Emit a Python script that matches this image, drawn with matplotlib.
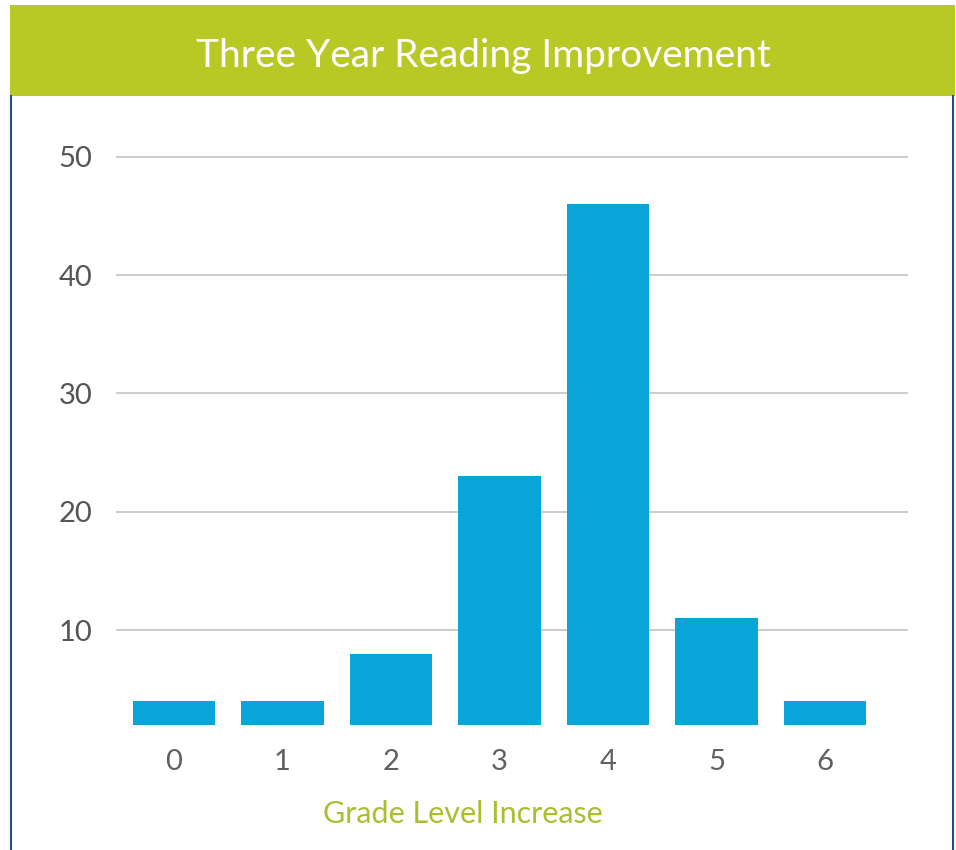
import matplotlib.pyplot as plt
from matplotlib.patches import Rectangle
from matplotlib.lines import Line2D

grades = ['0', '1', '2', '3', '4', '5', '6']
students = [4, 4, 8, 23, 46, 11, 4]
yticks = [10, 20, 30, 40, 50]

GREEN = '#b8c824'
BLUE = '#0aa5d8'
BORDER = '#1f4e8c'
TEXT = '#555555'

plt.rcParams['font.family'] = ['Lato', 'DejaVu Sans']

W, H = 956, 850
fig = plt.figure(figsize=(W / 100, H / 100), dpi=100)
fig.patch.set_facecolor('white')

# title band and side borders
fig.add_artist(Rectangle((10 / W, 1 - 96 / H), 945 / W, 91 / H,
                         transform=fig.transFigure, color=GREEN, lw=0))
fig.text(483 / W, 1 - 56 / H, 'Three Year Reading Improvement',
         color='white', fontsize=28, ha='center', va='center')
for xb in (11, 953):
    fig.add_artist(Line2D([xb / W, xb / W], [0, 1 - 96 / H],
                          transform=fig.transFigure, color=BORDER, lw=1.5))

ax = fig.add_axes([116 / W, 1 - 725 / H, 792 / W, 592 / H])
x = range(len(grades))
ax.bar(x, students, width=0.757, color=BLUE, zorder=2)
ax.set_xlim(-0.535, 6.765)
ax.set_ylim(2, 52)
ax.set_yticks(yticks)
ax.set_xticks(list(x))
ax.set_xticklabels(grades)
ax.yaxis.grid(True, color='#c8c8c8', lw=1.3, zorder=0)
ax.tick_params(length=0)
ax.tick_params(axis='y', pad=17, labelsize=21, labelcolor=TEXT)
ax.tick_params(axis='x', pad=17, labelsize=21, labelcolor='#606060')
for s in ax.spines.values():
    s.set_visible(False)

fig.text(463 / W, 1 - 814 / H, 'Grade Level Increase', color='#a8c030',
         fontsize=22, ha='center', va='center')

fig.savefig('out.png', dpi=100)
